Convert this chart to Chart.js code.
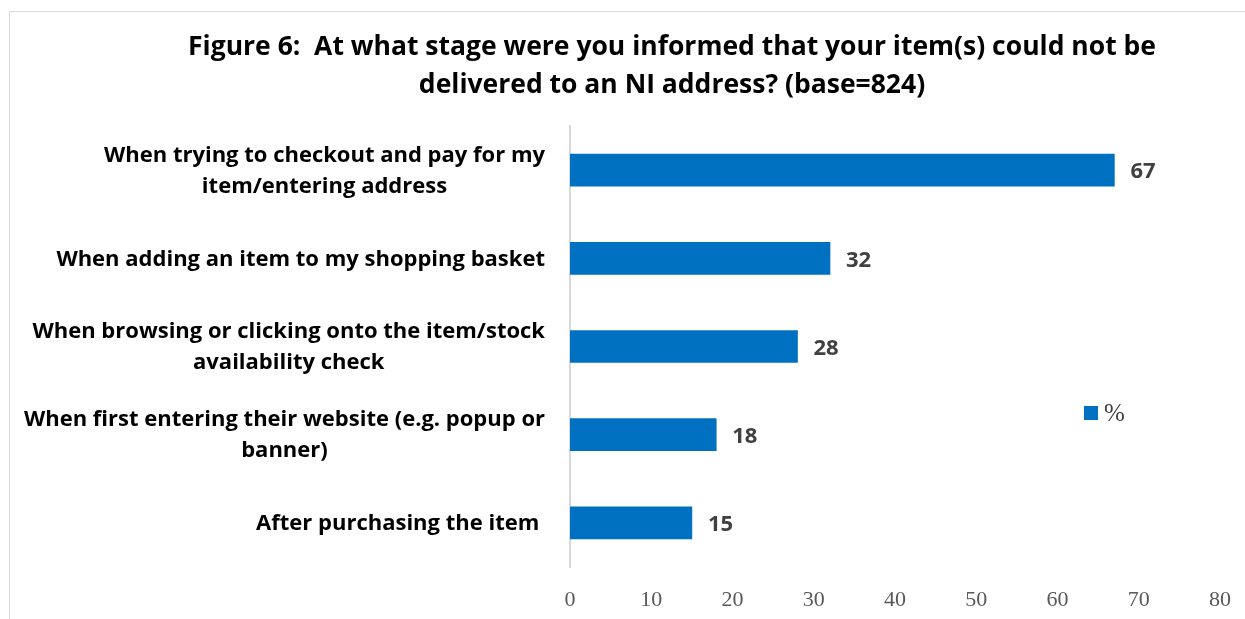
<!DOCTYPE html>
<html>
<head>
<meta charset="utf-8">
<title>Figure 6</title>
<script src="https://cdn.jsdelivr.net/npm/chart.js@4"></script>
<style>
  html, body { margin: 0; padding: 0; background: #fff; }
  #wrap { position: relative; width: 1245px; height: 619px; }
</style>
</head>
<body>
<div id="wrap"><canvas id="stageChart" width="1245" height="619"></canvas></div>
<script>
// Data
const titleLines = [
  'Figure 6:  At what stage were you informed that your item(s) could not be',
  'delivered to an NI address? (base=824)'
];
const categories = [
  ['When trying to checkout and pay for my', 'item/entering address'],
  ['When adding an item to my shopping basket'],
  ['When browsing or clicking onto the item/stock', 'availability check'],
  ['When first entering their website (e.g. popup or', 'banner)'],
  ['After purchasing the item ']
];
const percentages = [67, 32, 28, 18, 15];
const seriesName = '%';

const BLUE = '#0070C0';
const SANS = '"Open Sans", Lato, sans-serif';

// Custom drawing: frame, title, category labels, value labels, legend
const decorations = {
  id: 'decorations',
  beforeDraw(chart) {
    const c = chart.ctx;
    c.save();
    c.strokeStyle = '#d9d9d9';
    c.lineWidth = 1;
    c.beginPath();
    c.moveTo(9.5, 619);
    c.lineTo(9.5, 11.5);
    c.lineTo(1245, 11.5);
    c.stroke();
    c.restore();
  },
  afterDatasetsDraw(chart) {
    const c = chart.ctx;
    const yScale = chart.scales.y;
    c.save();

    // title
    c.fillStyle = '#000';
    c.font = 'bold 26.5px ' + SANS;
    c.textAlign = 'center';
    c.textBaseline = 'middle';
    titleLines.forEach((t, i) => c.fillText(t, 672, 47 + i * 38));

    // category labels: block right-aligned to the axis, lines centred in the block
    c.font = 'bold 22px ' + SANS;
    const right = 545;
    const lineH = 31;
    categories.forEach((lines, i) => {
      const y = yScale.getPixelForValue(i) + 1;
      const w = Math.max(...lines.map(l => c.measureText(l).width));
      const cx = right - w / 2;
      const y0 = y - (lines.length - 1) * lineH / 2;
      lines.forEach((l, j) => c.fillText(l, cx, y0 + j * lineH));
    });

    // value labels
    c.fillStyle = '#404040';
    c.textAlign = 'left';
    c.font = 'bold 22px ' + SANS;
    const meta = chart.getDatasetMeta(0);
    meta.data.forEach((bar, i) => {
      c.fillText(String(percentages[i]), bar.x + 16, bar.y + 2);
    });

    // legend
    c.fillStyle = BLUE;
    c.fillRect(1084, 406, 14, 14);
    c.fillStyle = '#404040';
    c.font = '25px "Liberation Serif", serif';
    c.fillText(seriesName, 1104, 414);

    c.restore();
  }
};

new Chart(document.getElementById('stageChart'), {
  type: 'bar',
  data: {
    labels: categories,
    datasets: [{
      label: seriesName,
      data: percentages,
      backgroundColor: BLUE,
      barThickness: 32
    }]
  },
  options: {
    indexAxis: 'y',
    responsive: false,
    animation: false,
    layout: { padding: { left: 570, top: 126, right: 25, bottom: 0 } },
    plugins: {
      legend: { display: false },
      title: { display: false },
      tooltip: { enabled: false }
    },
    scales: {
      x: {
        min: 0,
        max: 80,
        ticks: {
          stepSize: 10,
          color: '#595959',
          font: { family: '"Liberation Serif", serif', size: 22 },
          padding: 20
        },
        grid: { display: false, drawTicks: false },
        border: { display: false },
        afterFit(s) {
          s.height = 52;
          s.paddingLeft = 0;
          s.paddingRight = 0;
        }
      },
      y: {
        ticks: { display: false },
        grid: { display: false },
        border: { display: true, color: '#d9d9d9', width: 2 },
        afterFit(s) { s.width = 0; }
      }
    }
  },
  plugins: [decorations]
});
</script>
</body>
</html>
